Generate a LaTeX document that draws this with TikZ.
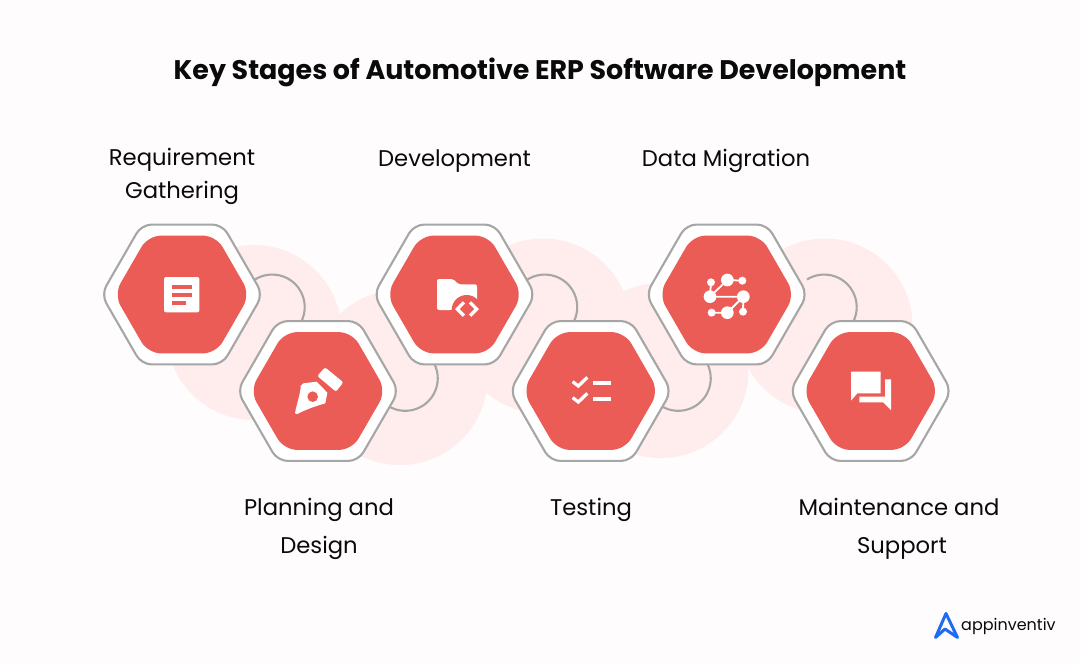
\documentclass[tikz,border=0pt]{standalone}
\usepackage{fontspec}
\setmainfont{Poppins}
\usetikzlibrary{shapes.geometric}
\definecolor{bgc}{HTML}{FFFCFD}
\definecolor{blobc}{HTML}{FEEDEC}
\definecolor{hexred}{HTML}{EC5C57}
\definecolor{ringc}{HTML}{A6A6A6}
\definecolor{logoblue}{HTML}{1F6BF2}
\definecolor{inkc}{HTML}{0A0A0A}
\tikzset{
  x=1pt,y=-1pt,
  blob/.style={fill=blobc,draw=none},
  link/.style={draw=ringc,line width=2.1pt},
  hexouter/.style={regular polygon,regular polygon sides=6,inner sep=0pt,outer sep=0pt,minimum size=161.5pt,fill=white,draw=ringc,line width=2.1pt,rounded corners=10pt},
  hexinner/.style={regular polygon,regular polygon sides=6,inner sep=0pt,outer sep=0pt,minimum size=136pt,fill=hexred,draw=none,rounded corners=13pt},
  labeltext/.style={text=inkc,align=center,inner sep=0pt,font=\fontsize{22.7}{33}\selectfont},
  labeltall/.style={text=inkc,align=center,inner sep=0pt,font=\fontsize{22.7}{38}\selectfont},
  icon/.style={fill=white,draw=none},
  iconline/.style={draw=white,line width=3.3pt,line join=miter},
  netline/.style={draw=white,line width=1.8pt},
}
\begin{document}
\begin{tikzpicture}
\useasboundingbox[fill=bgc] (0,0) rectangle (1080,665);
% blobs
\fill[blob] (254,332.5) circle[radius=87.5];
\fill[blob] (400,377.5) circle[radius=87.5];
\fill[blob] (543,326) circle[radius=87.5];
\fill[blob] (661,370.5) circle[radius=87.5];
\fill[blob] (825,326) circle[radius=87.5];
% connector start points
\coordinate (c1) at (255,279.5);
\coordinate (c2) at (390,407);
\coordinate (c3) at (527.5,279.5);
\coordinate (c4) at (663,407);
\coordinate (c5) at (807,279.5);
\draw[link] (c1) arc[start angle=238,end angle=388,radius=32.5];
\draw[link] (c2) arc[start angle=118,end angle=-27,radius=32.5];
\draw[link] (c3) arc[start angle=238,end angle=388,radius=32.5];
\draw[link] (c4) arc[start angle=118,end angle=-27,radius=32.5];
\draw[link] (c5) arc[start angle=238,end angle=388,radius=32.5];
% hexagons
\foreach \n/\cx/\cy in {a/182/294.5,b/318/391,c/454.5/294.5,d/590.7/391,e/726.7/294.5,f/870.7/391}{
  \node[hexouter] (out\n) at (\cx,\cy) {};
  \node[hexinner] (in\n) at (\cx,\cy) {};
}
% icon 1: document
\begin{scope}[shift={(140,255)},scale=1/3]
  \fill[icon,rounded corners=2pt] (72,66) rectangle (178,172);
  \fill[hexred] (97,90) rectangle (157,102);
  \fill[hexred] (97,113) rectangle (157,125);
  \fill[hexred] (97,137) rectangle (138,149);
\end{scope}
% icon 2: pen nib
\begin{scope}[shift={(280,350)},scale=1/3]
  \fill[icon,rounded corners=2pt] (112,78) -- (135,52) -- (190,97) -- (168,125) -- cycle;
  \fill[icon] (45,190) .. controls (50,160) and (62,130) .. (62,108) -- (70,100) -- (110,95) -- (142,128) -- (136,160) .. controls (100,170) and (75,180) .. (52,192) -- cycle;
  \fill[hexred] (98,140) circle[radius=16];
\end{scope}
% icon 3: folder with code
\begin{scope}[shift={(415,255)},scale=1/3]
  \fill[icon,rounded corners=2pt] (66,72) -- (115,72) -- (130,88) -- (186,88) -- (186,140) -- (110,165) -- (66,165) -- cycle;
  \fill[hexred] (155,165) circle[radius=45];
  \draw[iconline] (147,142) -- (127,162) -- (147,182);
  \draw[iconline] (165,142) -- (185,162) -- (165,182);
\end{scope}
% icon 4: checklist
\begin{scope}[shift={(550,350)},scale=1/3]
  \draw[iconline] (68,95) -- (85,108) -- (112,82);
  \draw[iconline] (68,143) -- (85,156) -- (112,130);
  \fill[icon] (130,92) rectangle (183,104);
  \fill[icon] (130,140) rectangle (183,152);
\end{scope}
% icon 5: network
\begin{scope}[shift={(685,255)},scale=1/3]
  \draw[netline] (78,82) -- (75,125) -- (127,75) -- (172,77);
  \draw[netline] (75,125) -- (175,125) -- (127,173) -- (80,173);
  \draw[netline] (175,125) -- (174,170);
  \foreach \px/\py/\r in {78/82/12,127/75/19,172/77/12,75/125/19,175/125/19,80/173/12,127/173/19,174/170/12}{
    \fill[icon] (\px,\py) circle[radius=\r];
  }
\end{scope}
% icon 6: chat
\begin{scope}[shift={(830,350)},scale=1/3]
  \fill[icon] (63,65) -- (152,65) -- (152,130) -- (82,130) -- (63,152) -- cycle;
  \fill[icon] (165,88) -- (183,88) -- (183,180) -- (160,157) -- (88,157) -- (88,140) -- (165,140) -- cycle;
\end{scope}
% title
\node[text=inkc,inner sep=0pt,font=\fontsize{26.9}{33}\selectfont\bfseries] (title) at (540,72) {Key Stages of Automotive ERP Software Development};
% labels
\node[labeltext] (l1) at (182,176.5) {Requirement\\Gathering};
\node[labeltext] (l3) at (454.5,161) {Development};
\node[labeltext] (l5) at (726,161) {Data Migration};
\node[labeltall] (l2) at (319,529) {Planning and\\Design};
\node[labeltext] (l4) at (591,510) {Testing};
\node[labeltall] (l6) at (899,529) {Maintenance and\\\hspace*{6pt}Support};
% logo
\draw[logoblue,line width=3pt,line join=round,line cap=round] (935.5,637.5) -- (946,613.5) -- (957.5,637.5) -- (945,629) -- cycle;
\node[text=inkc,inner sep=0pt,anchor=base west,font=\fontsize{16}{20}\selectfont] (logo) at (961,630) {appinventiv};
\end{tikzpicture}
\end{document}
